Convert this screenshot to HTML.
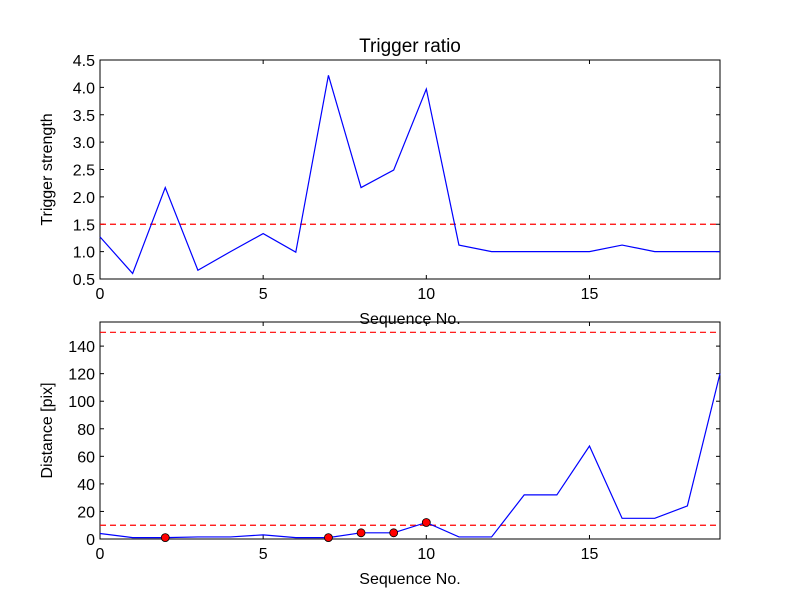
<!DOCTYPE html>
<html><head><meta charset="utf-8"><style>
body{margin:0;background:#fff;}
svg text{font-family:"Liberation Sans","DejaVu Sans",sans-serif;fill:#000;}
</style></head><body>
<svg id="fig" width="800" height="600" xmlns="http://www.w3.org/2000/svg">
<rect width="800" height="600" fill="#fff"/>
</svg>
<script>
const seq = [0,1,2,3,4,5,6,7,8,9,10,11,12,13,14,15,16,17,18,19];
const ratio = [1.27,0.6,2.17,0.66,1.0,1.33,0.99,4.22,2.17,2.49,3.97,1.12,1.0,1.0,1.0,1.0,1.12,1.0,1.0,1.0];
const ratioThreshold = 1.5;
const distance = [4,1,1,1.5,1.5,3,1,1,4.5,4.5,12,1.5,1.5,32,32,67.5,15,15,24,120];
const markedIdx = [2,7,8,9,10];
const distThresholds = [10,150];
const xTicks = [0,5,10,15];
const topYTicks = [0.5,1.0,1.5,2.0,2.5,3.0,3.5,4.0,4.5];
const botYTicks = [0,20,40,60,80,100,120,140];

const NS="http://www.w3.org/2000/svg";
const svgRoot=document.getElementById('fig');
function el(tag,attrs,parent){const e=document.createElementNS(NS,tag);for(const k in attrs)e.setAttribute(k,attrs[k]);(parent||svgRoot).appendChild(e);return e;}

function panel(name,box,xmin,xmax,ymin,ymax,yTicks,fmt,yTitle,title){
  const g=el('g',{});
  
  
  const sx=v=>box.x+(v-xmin)/(xmax-xmin)*box.w;
  const sy=v=>box.y+box.h-(v-ymin)/(ymax-ymin)*box.h;
  const frame=el('rect',{x:box.x,y:box.y,width:box.w,height:box.h,fill:'none',stroke:'#000','stroke-width':1},g);
  
  
  xTicks.forEach(t=>{
    const x=sx(t);
    el('line',{x1:x,y1:box.y+box.h,x2:x,y2:box.y+box.h-4,stroke:'#000'},g);
    el('line',{x1:x,y1:box.y,x2:x,y2:box.y+4,stroke:'#000'},g);
    const tx=el('text',{x:x,y:box.y+box.h+20,'text-anchor':'middle','font-size':16},g);
    tx.textContent=t;
    
    
  });
  yTicks.forEach(t=>{
    const y=sy(t);
    el('line',{x1:box.x,y1:y,x2:box.x+4,y2:y,stroke:'#000'},g);
    el('line',{x1:box.x+box.w,y1:y,x2:box.x+box.w-4,y2:y,stroke:'#000'},g);
    const tx=el('text',{x:box.x-5,y:y+6,'text-anchor':'end','font-size':16},g);
    tx.textContent=fmt(t);
    
    
  });
  const xl=el('text',{x:box.x+box.w/2,y:box.y+box.h+45,'text-anchor':'middle','font-size':16},g);
  xl.textContent='Sequence No.';
  
  
  const yl=el('text',{x:0,y:0,'text-anchor':'middle','font-size':16,transform:`translate(${box.x-48},${box.y+box.h/2}) rotate(-90)`},g);
  yl.textContent=yTitle;
  
  
  if(title){
    const tt=el('text',{x:box.x+box.w/2,y:box.y-8,'text-anchor':'middle','font-size':19},g);
    tt.textContent=title;
    
    
  }
  return {g,sx,sy};
}

const topPanel=panel('trigger-ratio-panel',{x:100,y:60,w:620,h:219},0,19,0.5,4.5,topYTicks,v=>v.toFixed(1),'Trigger strength','Trigger ratio');
const th=el('line',{x1:topPanel.sx(0),x2:topPanel.sx(19),y1:topPanel.sy(ratioThreshold),y2:topPanel.sy(ratioThreshold),stroke:'#f00','stroke-dasharray':'6,4','stroke-width':1.2},topPanel.g);


const p1=el('polyline',{points:seq.map((s,i)=>topPanel.sx(s)+','+topPanel.sy(ratio[i])).join(' '),fill:'none',stroke:'#00f','stroke-width':1.2},topPanel.g);



const botPanel=panel('distance-panel',{x:100,y:322,w:620,h:217},0,19,0,157.5,botYTicks,v=>String(v),'Distance [pix]',null);
distThresholds.forEach(v=>{
  const l=el('line',{x1:botPanel.sx(0),x2:botPanel.sx(19),y1:botPanel.sy(v),y2:botPanel.sy(v),stroke:'#f00','stroke-dasharray':'6,4','stroke-width':1.2},botPanel.g);
  
  
});
const p2=el('polyline',{points:seq.map((s,i)=>botPanel.sx(s)+','+botPanel.sy(distance[i])).join(' '),fill:'none',stroke:'#00f','stroke-width':1.2},botPanel.g);


markedIdx.forEach(i=>{
  const c=el('circle',{cx:botPanel.sx(seq[i]),cy:botPanel.sy(distance[i]),r:4,fill:'#f00',stroke:'#000','stroke-width':0.8},botPanel.g);
  
  
});
</script>
</body></html>
